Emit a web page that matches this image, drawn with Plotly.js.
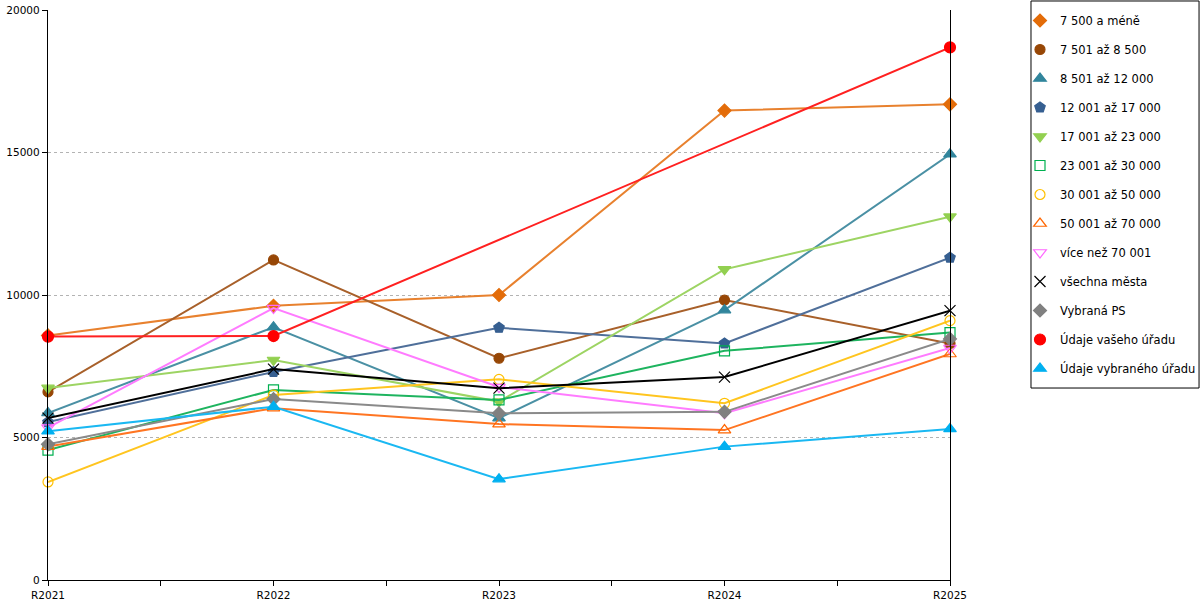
<!DOCTYPE html>
<html>
<head>
<meta charset="utf-8">
<script src="https://cdn.plot.ly/plotly-3.0.1.min.js"></script>
<style>html,body{margin:0;padding:0;background:#fff;}#chart{width:1200px;height:600px;}</style>
</head>
<body>
<div id="chart"></div>
<script>
const categories = ['R2021', 'R2022', 'R2023', 'R2024', 'R2025'];

const seriesNames = [
  '7 500 a méně', '7 501 až 8 500', '8 501 až 12 000', '12 001 až 17 000',
  '17 001 až 23 000', '23 001 až 30 000', '30 001 až 50 000', '50 001 až 70 000',
  'více než 70 001', 'všechna města', 'Vybraná PS', 'Údaje vašeho úřadu', 'Údaje vybraného úřadu'
];

const s7500 = [8580, 9620, 10000, 16470, 16690];
const s8500 = [6600, 11230, 7780, 9820, 8300];
const s12000 = [5860, 8870, 5680, 9470, 14940];
const s17000 = [5540, 7300, 8850, 8300, 11310];
const s23000 = [6740, 7720, 6260, 10900, 12750];
const s30000 = [4560, 6670, 6320, 8040, 8680];
const s50000 = [3440, 6490, 7040, 6200, 9100];
const s70000 = [4680, 6030, 5470, 5260, 7930];
const sOver70 = [5350, 9540, 6770, 5850, 8140];
const sAll = [5680, 7400, 6730, 7120, 9450];
const sPS = [4760, 6350, 5850, 5900, 8460];
const sYour = [8540, 8560, null, null, 18690];
const sSelected = [5220, 6080, 3540, 4680, 5300];

const seriesValues = [s7500, s8500, s12000, s17000, s23000, s30000, s50000, s70000, sOver70, sAll, sPS, sYour, sSelected];

const styles = [
  {color: '#e36c09', line: '#e8812e', symbol: 'diamond', size: 10},
  {color: '#974706', line: '#a8602a', symbol: 'circle', size: 10},
  {color: '#31859c', line: '#4a90a4', symbol: 'triangle-up', size: 11},
  {color: '#365f91', line: '#4f6f9a', symbol: 'pentagon', size: 11},
  {color: '#92d050', line: '#9dd463', symbol: 'triangle-down', size: 11},
  {color: '#00b050', line: '#1eb45f', symbol: 'square-open', size: 10},
  {color: '#ffc000', line: '#ffc51f', symbol: 'circle-open', size: 10},
  {color: '#ff6600', line: '#ff7522', symbol: 'triangle-up-open', size: 11},
  {color: '#ff66ff', line: '#ff7bff', symbol: 'triangle-down-open', size: 11},
  {color: '#000000', line: '#000000', symbol: 'x-thin-open', size: 11},
  {color: '#808080', line: '#8a8a8a', symbol: 'diamond', size: 10},
  {color: '#ff0000', line: '#ff2020', symbol: 'circle', size: 11},
  {color: '#00b0f0', line: '#1ab8f2', symbol: 'triangle-up', size: 11}
];

const xIdx = categories.map((c, i) => i);
const traces = [];
seriesNames.forEach((name, k) => {
  const st = styles[k];
  traces.push({
    type: 'scatter', mode: 'lines+markers', name: name,
    x: xIdx, y: seriesValues[k], connectgaps: true, showlegend: false,
    cliponaxis: false,
    line: {color: st.line, width: 2},
    marker: {color: st.color, symbol: st.symbol, size: st.size, line: {color: st.color, width: 1.2}},
    hoverinfo: 'name+y'
  });
});
seriesNames.forEach((name, k) => {
  const st = styles[k];
  traces.push({
    type: 'scatter', mode: 'markers', name: name, legendgroup: 'g' + k,
    x: [null], y: [null], showlegend: true,
    marker: {color: st.color, symbol: st.symbol, size: st.size, line: {color: st.color, width: 1.2}}
  });
});

const tickvals = [];
const ticktext = [];
categories.forEach((c, i) => {
  tickvals.push(i); ticktext.push(c);
  if (i < categories.length - 1) { tickvals.push(i + 0.5); ticktext.push(''); }
});

const layout = {
  width: 1200, height: 600,
  margin: {l: 48, r: 250, t: 10, b: 20, autoexpand: false},
  paper_bgcolor: '#ffffff', plot_bgcolor: '#ffffff',
  font: {family: 'DejaVu Sans, sans-serif', size: 10.5, color: '#000'},
  xaxis: {
    range: [0, categories.length - 1], tickmode: 'array', tickvals: tickvals, ticktext: ticktext,
    showgrid: false, zeroline: false, showline: true, linecolor: '#000', linewidth: 1.2,
    ticks: 'outside', ticklen: 5, tickcolor: '#000', tickwidth: 1, fixedrange: true,
    automargin: false
  },
  yaxis: {
    range: [0, 20000], dtick: 5000, tick0: 0, showgrid: true, gridcolor: '#b3b3b3', griddash: '3px,3px',
    gridwidth: 1, zeroline: false, showline: true, linecolor: '#000', linewidth: 1.2, mirror: true,
    ticks: 'outside', ticklen: 5, tickcolor: '#000', tickformat: 'd', fixedrange: true,
    automargin: false
  },
  legend: {
    x: 1.0776, xanchor: 'left', y: 1.007, yanchor: 'top',
    borderwidth: 0, bgcolor: 'rgba(0,0,0,0)',
    font: {family: 'DejaVu Sans, sans-serif', size: 11.5, color: '#000'},
    tracegroupgap: 10, itemwidth: 30, maxheight: 600
  },
  shapes: [{
    type: 'rect', xref: 'paper', yref: 'paper',
    x0: 1.0898, x1: 1.2761, y0: 0.3368, y1: 1.0158,
    line: {color: '#000', width: 1}, fillcolor: 'rgba(0,0,0,0)', layer: 'below'
  }],
  showlegend: true
};

Plotly.newPlot('chart', traces, layout, {displayModeBar: false, staticPlot: true});
</script>
</body>
</html>
